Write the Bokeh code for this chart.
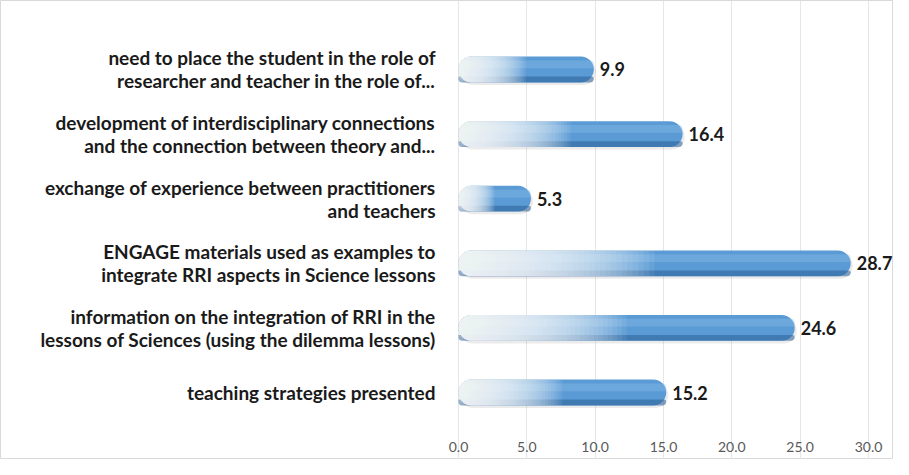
from bokeh.plotting import figure
from bokeh.models import Range1d, FixedTicker, ColumnDataSource
from bokeh.core.properties import value
from bokeh.embed import file_html
from bokeh.resources import INLINE

categories = [
    "teaching strategies presented",
    "information on the integration of RRI in the\nlessons of Sciences (using the dilemma lessons)",
    "ENGAGE materials used as examples to\nintegrate RRI aspects in Science lessons",
    "exchange of experience between practitioners\nand teachers",
    "development of interdisciplinary connections\nand the connection between theory and...",
    "need to place the student in the role of\nresearcher and teacher in the role of...",
]
values = [15.2, 24.6, 28.7, 5.3, 16.4, 9.9]
ticks = [0, 5, 10, 15, 20, 25, 30]
tick_labels = {t: f"{t:.1f}" for t in ticks}

W, H = 893, 459
p = figure(width=W, height=H, output_backend="svg", toolbar_location=None,
           x_range=Range1d(-33.51, 31.83), y_range=Range1d(-1.037, 6.068),
           min_border_left=0, min_border_right=0, min_border_top=0, min_border_bottom=0)
p.yaxis.visible = False
p.ygrid.visible = False
p.outline_line_color = "#d9d9d9"

p.xaxis.fixed_location = -0.56
p.xaxis.ticker = FixedTicker(ticks=ticks)
p.xaxis.major_label_overrides = tick_labels
p.xaxis.axis_line_color = None
p.xaxis.major_tick_line_color = None
p.xaxis.minor_tick_line_color = None
p.xaxis.major_label_text_color = "#595959"
p.xaxis.major_label_text_font = "Lato"
p.xaxis.major_label_text_font_size = "14px"
p.xaxis.major_label_standoff = 7
p.xgrid.ticker = FixedTicker(ticks=ticks)
p.xgrid.grid_line_color = "#e6e6e6"

ys = list(range(len(values)))
src = ColumnDataSource(dict(y=ys, v=values, cat=categories,
                            lab=[f"{v:.1f}" for v in values]))

bh = 0.40
# shadow
p.hbar(y=[y - 0.04 for y in ys], left=[0.1] * len(values), right=[v + 0.15 for v in values],
       height=bh, fill_color="#808080", fill_alpha=0.16, line_color=None, border_radius=13)
# base bar
p.hbar(y="y", left=0, right="v", height=bh, source=src, fill_color="#5b9bd5",
       line_color=None, border_radius=13)
# bottom dark shade
p.hbar(y=[y - 0.155 for y in ys], left=[0] * len(values), right=values, height=0.09,
       fill_color="#2a5f96", fill_alpha=0.55, line_color=None, border_radius=(0, 6, 13, 13))
# top highlight
p.hbar(y=[y + 0.08 for y in ys], left=[0] * len(values), right=values, height=0.12,
       fill_color="#8fbfec", fill_alpha=0.35, line_color=None, border_radius=(13, 6, 0, 0))
# white gradient from the left
n = 36
for k in range(1, n + 1):
    frac = 0.5 * k / n
    p.hbar(y=ys, left=[0] * len(values), right=[v * frac for v in values], height=bh,
           fill_color="white", fill_alpha=0.07, line_color=None, border_radius=(13, 0, 0, 13))

p.text(x="v", y="y", text="lab", source=src, x_offset=6, text_align="left",
       text_baseline="middle", text_font=value("Lato"), text_font_style="bold",
       text_font_size="18px", text_color="#1a1a1a")

p.text(x=[-1.68] * len(values), y=ys, text=categories, text_align="right",
       text_baseline="middle", text_font=value("Lato"), text_font_style="bold",
       text_font_size="19px", text_color="#1a1a1a", text_line_height=1.0)

open("out.html", "w").write(file_html(p, INLINE))
